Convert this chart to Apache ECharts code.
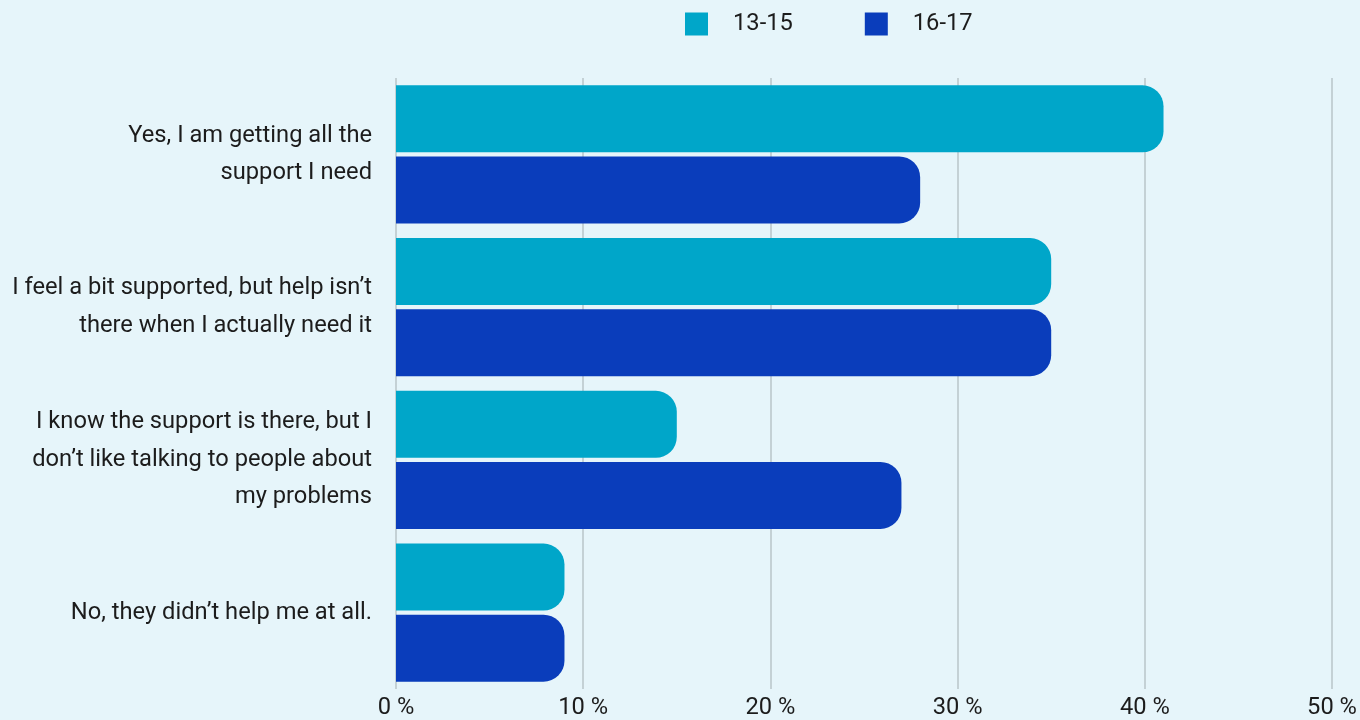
<!DOCTYPE html>
<html>
<head>
<meta charset="utf-8">
<script src="https://cdn.jsdelivr.net/npm/echarts@6/dist/echarts.min.js"></script>
<style>
  html, body { margin: 0; padding: 0; background: #E6F5FA; }
  #chart { width: 1360px; height: 720px; }
</style>
</head>
<body>
<div id="chart"></div>
<script>
// Survey answers (y categories) and share of respondents per age group, in %
const categories = [
  'Yes, I am getting all the\nsupport I need',
  'I feel a bit supported, but help isn\u2019t\nthere when I actually need it',
  'I know the support is there, but I\ndon\u2019t like talking to people about\nmy problems',
  'No, they didn\u2019t help me at all.'
];
const seriesNames = ['13-15', '16-17'];
const values1315 = [41, 35, 15, 9];
const values1617 = [28, 35, 27, 9];
const xTicks = { min: 0, max: 50, interval: 10 };

const FONT = 'Roboto, "Noto Sans", sans-serif';
const TEXT = '#1c1c1c';
const FS = 23.7;

const chart = echarts.init(document.getElementById('chart'), null, { renderer: 'canvas' });
chart.setOption({
  backgroundColor: '#E6F5FA',
  animation: false,
  textStyle: { fontFamily: FONT },
  legend: {
    top: 7,
    left: 680,
    itemWidth: 23,
    itemHeight: 23,
    itemGap: 72,
    icon: 'rect',
    textStyle: { fontSize: FS, color: TEXT, fontFamily: FONT, padding: [0, 0, 0, 20] },
    data: seriesNames
  },
  grid: { left: 396, right: 28, top: 78, bottom: 27, containLabel: false },
  xAxis: {
    type: 'value',
    min: xTicks.min,
    max: xTicks.max,
    interval: xTicks.interval,
    axisLine: { show: false },
    axisTick: { show: false },
    splitLine: { show: true, lineStyle: { color: '#B9C5C9', width: 1.5 } },
    axisLabel: { formatter: '{value} %', fontSize: FS, color: TEXT, fontFamily: FONT, margin: 7 }
  },
  yAxis: {
    type: 'category',
    inverse: true,
    data: categories,
    axisLine: { show: false },
    axisTick: { show: false },
    axisLabel: {
      fontSize: FS, color: TEXT, fontFamily: FONT, margin: 24, lineHeight: 37.5,
      align: 'right', padding: [10, 0, 0, 0]
    }
  },
  series: [
    {
      name: seriesNames[0],
      type: 'bar',
      data: values1315,
      barWidth: 67,
      barGap: '6%',
      itemStyle: { color: '#00A6C9', borderRadius: [0, 21, 21, 0] }
    },
    {
      name: seriesNames[1],
      type: 'bar',
      data: values1617,
      barWidth: 67,
      itemStyle: { color: '#0A3DBB', borderRadius: [0, 21, 21, 0] }
    }
  ]
});
</script>
</body>
</html>
